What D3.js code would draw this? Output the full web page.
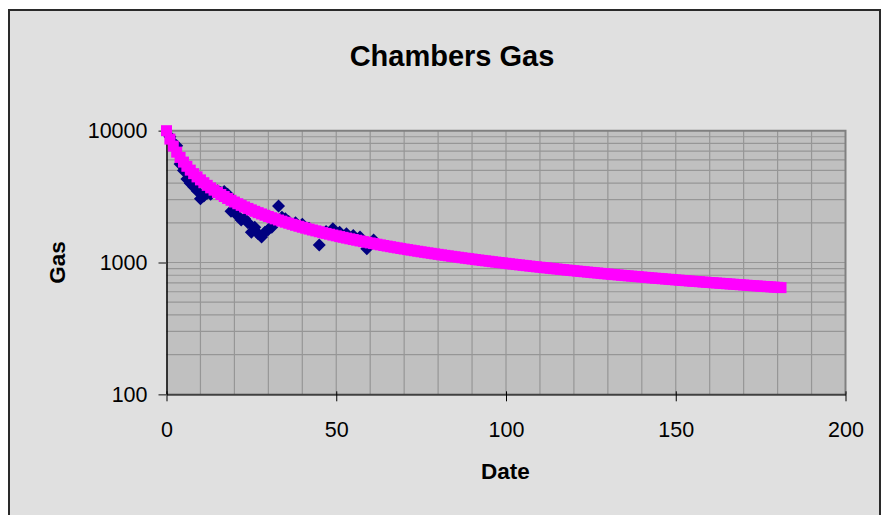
<!DOCTYPE html>
<html>
<head>
<meta charset="utf-8">
<script src="https://cdn.jsdelivr.net/npm/d3@7"></script>
<style>
  html, body { margin: 0; padding: 0; background: #fff; }
  svg text { font-family: "Liberation Sans", Arial, sans-serif; fill: #000; }
</style>
</head>
<body>
<svg id="chart" width="882" height="515"></svg>
<script>
// ========================
// Data
// ========================
const chartTitle = "Chambers Gas";
const xLabel = "Date";
const yLabel = "Gas";
const xTickValues = [0, 50, 100, 150, 200];
const yTickValues = [100, 1000, 10000];

// measured points (navy diamonds)
const obsDays = [1, 2, 3, 4, 5, 6, 7, 8, 9, 10, 11, 12, 13, 14, 15, 16, 17, 18, 19, 20,
    21, 22, 23, 24, 25, 26, 27, 28, 29, 30, 31, 33, 34, 35, 36, 38, 40, 42, 45, 47,
    49, 51, 53, 55, 57, 59, 61];
const obsGas = [9000, 8100, 7700, 5600, 5000, 4300, 4000, 3750, 3500, 3050, 3200, 3350, 3300, 3450, 3500, 3400, 3450, 3300, 2450, 2500,
    2250, 2100, 2150, 2000, 1700, 1850, 1650, 1560, 1700, 1780, 1850, 2680, 2200, 2150, 2050, 2000, 1950, 1820, 1360, 1720,
    1800, 1700, 1650, 1600, 1560, 1270, 1480];

// decline curve (magenta squares), one value per day starting at day 0
const fitGas = [
    10000, 8633, 7638, 6876, 6272, 5779, 5369, 5022, 4723, 4462,
    4234, 4030, 3849, 3685, 3538, 3403, 3280, 3167, 3062, 2966,
    2876, 2792, 2714, 2641, 2572, 2508, 2446, 2389, 2335, 2283,
    2234, 2187, 2143, 2101, 2060, 2022, 1985, 1949, 1915, 1883,
    1851, 1821, 1792, 1764, 1738, 1712, 1686, 1662, 1639, 1616,
    1594, 1573, 1552, 1532, 1513, 1494, 1476, 1458, 1441, 1424,
    1408, 1392, 1376, 1361, 1346, 1332, 1318, 1304, 1291, 1278,
    1265, 1253, 1241, 1229, 1217, 1206, 1195, 1184, 1174, 1163,
    1153, 1143, 1133, 1124, 1114, 1105, 1096, 1087, 1078, 1070,
    1062, 1053, 1045, 1037, 1030, 1022, 1014, 1007, 1000, 993,
    986, 979, 972, 965, 959, 952, 946, 939, 933, 927,
    921, 915, 910, 904, 898, 893, 887, 882, 876, 871,
    866, 861, 856, 851, 846, 841, 836, 832, 827, 822,
    818, 813, 809, 805, 800, 796, 792, 788, 784, 780,
    776, 772, 768, 764, 760, 757, 753, 749, 746, 742,
    738, 735, 731, 728, 724, 721, 718, 715, 711, 708,
    705, 702, 699, 696, 693, 690, 687, 684, 681, 678,
    675, 672, 669, 666, 664, 661, 658, 656, 653, 650,
    648, 645
];

// ========================
// Setup
// ========================
const svg = d3.select("#chart");

const plot = { left: 166.5, right: 845.5, top: 130.7, bottom: 394.3 };

const x = d3.scaleLinear().domain([0, 200]).range([plot.left, plot.right]);
const y = d3.scaleLog().domain([100, 10000]).range([plot.bottom, plot.top]);

// chart frame
svg.append("rect")
    .attr("x", 9).attr("y", 10)
    .attr("width", 871).attr("height", 520)
    .attr("fill", "#e0e0e0")
    .attr("stroke", "#2a2a2a")
    .attr("stroke-width", 2);

// plot area
svg.append("rect")
    .attr("x", plot.left).attr("y", plot.top)
    .attr("width", plot.right - plot.left)
    .attr("height", plot.bottom - plot.top)
    .attr("fill", "#c0c0c0");

// ========================
// Gridlines
// ========================
const grid = svg.append("g").attr("stroke", "#969696").attr("stroke-width", 1.2);

grid.selectAll(".vgrid")
    .data(x.ticks(20).filter(d => d > 0 && d < 200))
    .join("line")
    .attr("x1", d => x(d)).attr("x2", d => x(d))
    .attr("y1", plot.top).attr("y2", plot.bottom);

grid.selectAll(".hgrid")
    .data(y.ticks().filter(d => d > 100 && d < 10000))
    .join("line")
    .attr("x1", plot.left).attr("x2", plot.right)
    .attr("y1", d => y(d)).attr("y2", d => y(d));

// plot borders (top / right)
svg.append("path")
    .attr("d", `M${plot.left},${plot.top}H${plot.right}V${plot.bottom}`)
    .attr("fill", "none")
    .attr("stroke", "#808080")
    .attr("stroke-width", 2);

// ========================
// Axes
// ========================
const xAxis = svg.append("g")
    .attr("transform", `translate(0,${plot.bottom})`)
    .call(d3.axisBottom(x).tickValues(xTickValues).tickSize(7).tickPadding(20).tickSizeOuter(0));

xAxis.select(".domain").attr("stroke", "#404040").attr("stroke-width", 2);
xAxis.selectAll(".tick line").attr("stroke", "#000").attr("y1", -3);
xAxis.selectAll(".tick text")
    .style("font-size", "21.5px")
    .attr("fill", "#000");

const yAxis = svg.append("g")
    .attr("transform", `translate(${plot.left},0)`)
    .call(d3.axisLeft(y).tickValues(yTickValues).tickFormat(d3.format("d")).tickSize(8).tickPadding(11).tickSizeOuter(0));

yAxis.select(".domain").attr("stroke", "#000").attr("stroke-width", 1.5);
yAxis.selectAll(".tick line").attr("stroke", "#555").attr("stroke-width", 1.5);
yAxis.selectAll(".tick text")
    .style("font-size", "21.5px")
    .attr("fill", "#000");

// ========================
// Marks
// ========================
svg.append("g")
    .selectAll("path")
    .data(obsDays.map((d, i) => ({ day: d, gas: obsGas[i] })))
    .join("path")
    .attr("d", "M0,-6.5L6.5,0L0,6.5L-6.5,0Z")
    .attr("transform", d => `translate(${x(d.day)},${y(d.gas)})`)
    .attr("fill", "#000080");

const sq = 11;
svg.append("g")
    .selectAll("rect")
    .data(fitGas.map((g, i) => ({ day: i, gas: g })))
    .join("rect")
    .attr("x", d => x(d.day) - sq / 2)
    .attr("y", d => y(d.gas) - sq / 2)
    .attr("width", sq).attr("height", sq)
    .attr("fill", "#ff00ff");

// ========================
// Titles
// ========================
svg.append("text")
    .attr("x", 452).attr("y", 66)
    .attr("text-anchor", "middle")
    .style("font-size", "29px")
    .style("font-weight", "bold")
    .text(chartTitle);

svg.append("text")
    .attr("x", 505.5).attr("y", 479)
    .attr("text-anchor", "middle")
    .style("font-size", "22.5px")
    .style("font-weight", "bold")
    .text(xLabel);

svg.append("text")
    .attr("transform", "translate(65,262.5) rotate(-90)")
    .attr("text-anchor", "middle")
    .style("font-size", "22.5px")
    .style("font-weight", "bold")
    .text(yLabel);
</script>
</body>
</html>
